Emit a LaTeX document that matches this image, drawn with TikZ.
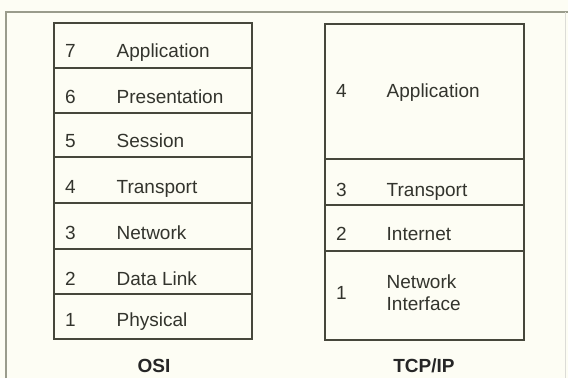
\documentclass[tikz,border=0pt]{standalone}
\usepackage{fontspec}
\setmainfont{Liberation Sans}
\definecolor{bg}{HTML}{FDFDF4}
\definecolor{ink}{HTML}{46473B}
\definecolor{txt}{HTML}{33342D}
\definecolor{framec}{HTML}{9A9C8C}
\begin{document}
\begin{tikzpicture}[x=1pt,y=-1pt,
  layer/.style={draw=ink, line width=2.4pt, rectangle, inner sep=0pt, outer sep=0pt},
  osil/.style={layer, minimum width=198},
  tcpl/.style={layer, minimum width=199},
  num/.style={anchor=base west, inner sep=0pt, text=txt, font=\fontsize{19}{22}\selectfont},
  lbl/.style={anchor=base west, inner sep=0pt, text=txt, align=left, font=\fontsize{19}{22}\selectfont},
  ttl/.style={anchor=base, inner sep=0pt, text=black!85, font=\fontsize{19}{22}\selectfont\bfseries}]
\fill[bg] (0,0) rectangle (568,378);
\useasboundingbox (0,0) rectangle (568,378);
\draw[framec, line width=1.5pt] (6,378) -- (6,12) -- (568,12);
\draw[framec!35, line width=1pt] (565,12) -- (565,378);
% OSI stack
\node[osil, minimum height=45] (osi7) at (153,45.5) {};
\node[osil, minimum height=45] (osi6) at (153,90.5) {};
\node[osil, minimum height=44] (osi5) at (153,135) {};
\node[osil, minimum height=46] (osi4) at (153,180) {};
\node[osil, minimum height=46] (osi3) at (153,226) {};
\node[osil, minimum height=45] (osi2) at (153,271.5) {};
\node[osil, minimum height=45] (osi1) at (153,316.5) {};
\node[num] (n7) at (65,57) {7};
\node[lbl] (l7) at (116.5,57) {Application};
\node[num] (n6) at (65,103) {6};
\node[lbl] (l6) at (116.5,103) {Presentation};
\node[num] (n5) at (65,147) {5};
\node[lbl] (l5) at (116.5,147) {Session};
\node[num] (n4) at (65,193) {4};
\node[lbl] (l4) at (116.5,193) {Transport};
\node[num] (n3) at (65,239) {3};
\node[lbl] (l3) at (116.5,239) {Network};
\node[num] (n2) at (65,285) {2};
\node[lbl] (l2) at (116.5,285) {Data Link};
\node[num] (n1) at (65,326) {1};
\node[lbl] (l1) at (116.5,326) {Physical};
\node[ttl] (osi) at (154,372) {OSI};
% TCP/IP stack
\node[tcpl, minimum height=135] (tcp4) at (424.5,91.5) {};
\node[tcpl, minimum height=46] (tcp3) at (424.5,182) {};
\node[tcpl, minimum height=46] (tcp2) at (424.5,228) {};
\node[tcpl, minimum height=89] (tcp1) at (424.5,295.5) {};
\node[num] (t4) at (336,97) {4};
\node[lbl] (m4) at (386.5,97) {Application};
\node[num] (t3) at (336,196) {3};
\node[lbl] (m3) at (386.5,196) {Transport};
\node[num] (t2) at (336,240) {2};
\node[lbl] (m2) at (386.5,240) {Internet};
\node[num] (t1) at (336,299) {1};
\node[lbl] (m1) at (386.5,310) {Network\\Interface};
\node[ttl] (tcp) at (424,372) {TCP/IP};
\end{tikzpicture}
\end{document}
